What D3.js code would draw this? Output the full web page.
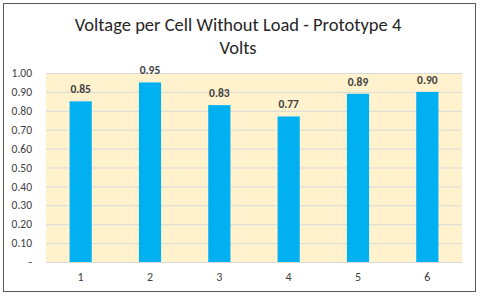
<!DOCTYPE html>
<html>
<head>
<meta charset="utf-8">
<script src="https://cdn.jsdelivr.net/npm/d3@7"></script>
<style>
body { margin: 0; background: #fff; }
svg text { font-family: Calibri, Carlito, Lato, sans-serif; }
</style>
</head>
<body>
<div id="chart"></div>
<script>
const categories = ["1", "2", "3", "4", "5", "6"];
const voltages = [0.85, 0.95, 0.83, 0.77, 0.89, 0.90];
const yTicks = [0, 0.1, 0.2, 0.3, 0.4, 0.5, 0.6, 0.7, 0.8, 0.9, 1.0];

const W = 480, H = 296;
const margin = {top: 73, right: 18, bottom: 34, left: 46};
const width = W - margin.left - margin.right;
const height = H - margin.top - margin.bottom;

const root = d3.select("#chart").append("svg")
    .attr("width", W)
    .attr("height", H);

root.append("rect")
    .attr("x", 3.5).attr("y", 3.5)
    .attr("width", 472).attr("height", 288)
    .attr("fill", "#fff")
    .attr("stroke", "#595959")
    .attr("stroke-width", 1);

root.append("text")
    .attr("x", 238).attr("y", 31)
    .attr("text-anchor", "middle")
    .attr("font-size", 18.5)
    .attr("fill", "#262626")
    .text("Voltage per Cell Without Load - Prototype 4");

root.append("text")
    .attr("x", 238).attr("y", 54)
    .attr("text-anchor", "middle")
    .attr("font-size", 18.5)
    .attr("fill", "#262626")
    .text("Volts");

const svg = root.append("g")
    .attr("transform", `translate(${margin.left},${margin.top})`);

const x = d3.scaleBand().domain(categories).range([0, width]).paddingInner(0.68).paddingOuter(0.34);
const y = d3.scaleLinear().domain([0, 1]).range([height, 0]);

svg.append("rect")
    .attr("width", width).attr("height", height)
    .attr("fill", "#FFF2CC");

svg.append("g")
    .attr("class", "grid")
    .call(d3.axisLeft(y).tickValues(yTicks).tickSize(-width).tickFormat(""))
    .call(g => g.select(".domain").remove())
    .call(g => g.selectAll("line").attr("stroke", "#D9D9D9").attr("stroke-width", 1));

svg.append("g")
    .attr("class", "y-axis")
    .call(d3.axisLeft(y).tickValues(yTicks).tickSize(0).tickPadding(14)
        .tickFormat(d => d === 0 ? "-" : d3.format(".2f")(d)))
    .call(g => g.select(".domain").remove())
    .call(g => g.selectAll("text").attr("font-size", 11.5).attr("fill", "#404040")
        .style("font-family", "Calibri, Carlito, Lato, sans-serif"));

svg.append("g")
    .attr("class", "x-axis")
    .attr("transform", `translate(0,${height})`)
    .call(d3.axisBottom(x).tickSize(0).tickPadding(10))
    .call(g => g.select(".domain").remove())
    .call(g => g.selectAll("text").attr("font-size", 12).attr("fill", "#404040")
        .style("font-family", "Calibri, Carlito, Lato, sans-serif"));

svg.selectAll(".bar")
    .data(voltages)
    .enter().append("rect")
    .attr("class", "bar")
    .attr("x", (d, i) => x(categories[i]))
    .attr("y", d => y(d))
    .attr("width", x.bandwidth())
    .attr("height", d => height - y(d))
    .attr("fill", "#00B0F0");

svg.selectAll(".label")
    .data(voltages)
    .enter().append("text")
    .attr("class", "label")
    .attr("x", (d, i) => x(categories[i]) + x.bandwidth() / 2)
    .attr("y", d => y(d) - 8)
    .attr("text-anchor", "middle")
    .attr("font-size", 11.5)
    .attr("font-weight", "bold")
    .attr("fill", "#404040")
    .text(d => d3.format(".2f")(d));
</script>
</body>
</html>
